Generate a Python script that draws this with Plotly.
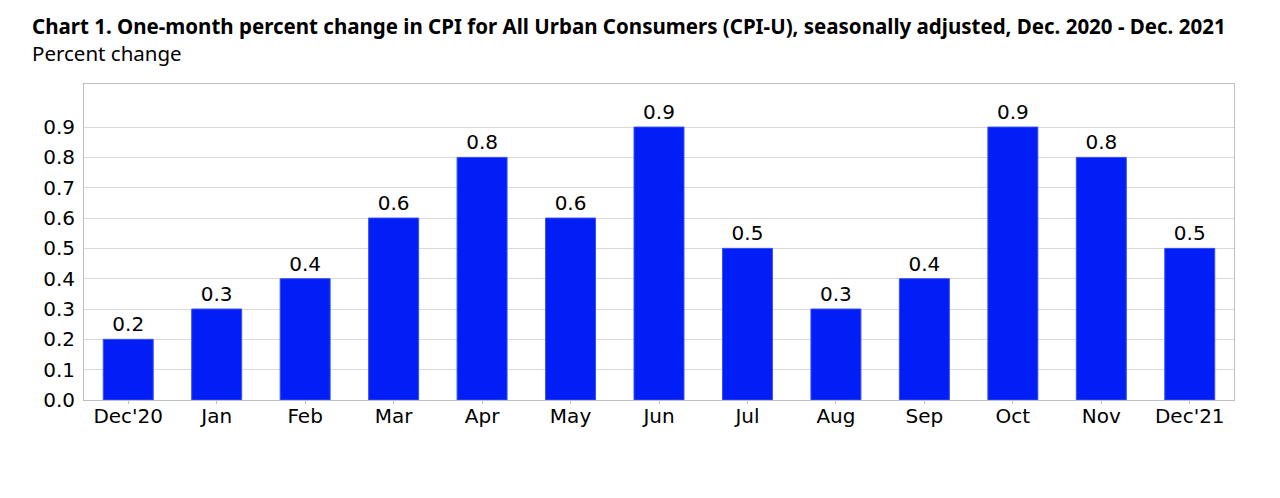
import plotly.graph_objects as go

months = ["Dec'20", "Jan", "Feb", "Mar", "Apr", "May", "Jun", "Jul", "Aug", "Sep", "Oct", "Nov", "Dec'21"]
values = [0.2, 0.3, 0.4, 0.6, 0.8, 0.6, 0.9, 0.5, 0.3, 0.4, 0.9, 0.8, 0.5]
tick_vals = [0.0, 0.1, 0.2, 0.3, 0.4, 0.5, 0.6, 0.7, 0.8, 0.9]

fig = go.Figure(go.Bar(
    x=months, y=values,
    marker=dict(color="#001EF5", line=dict(color="#3A50F0", width=1)),
    text=[f"{v:.1f}" for v in values], textposition="outside",
    textfont=dict(family="DejaVu Sans", size=20, color="black"),
    cliponaxis=False,
))

fig.update_layout(
    width=1280, height=498,
    margin=dict(l=76, r=54, t=76, b=106, autoexpand=False),
    plot_bgcolor="white", paper_bgcolor="white",
    bargap=0.435,
    showlegend=False,
    font=dict(family="DejaVu Sans", size=20, color="black"),
    annotations=[
        dict(text="<b>Chart 1. One-month percent change in CPI for All Urban Consumers (CPI-U), seasonally adjusted, Dec. 2020 - Dec. 2021</b><br>Percent change",
             xref="paper", yref="paper", x=-0.047, y=1.0, yshift=45, xanchor="left", yanchor="middle",
             align="left", showarrow=False, font=dict(family="Noto Sans", size=20.5, color="black")),
    ],
)
fig.update_yaxes(range=[0, 1.042], tickvals=tick_vals, ticktext=[f"{v:.1f}" for v in tick_vals],
                 showgrid=True, gridcolor="#D9D9D9", gridwidth=1,
                 showline=True, linecolor="#BEBEBE", linewidth=1, mirror=True,
                 ticks="", zeroline=False, tickfont=dict(size=20), automargin=False,
                 ticklabelstandoff=4)
fig.update_xaxes(showline=True, linecolor="#BEBEBE", linewidth=1, mirror=True,
                 ticks="outside", ticklen=3, tickcolor="#BEBEBE", tickfont=dict(size=20), automargin=False,
                 ticklabelstandoff=-5)

fig.write_html("out.html")
